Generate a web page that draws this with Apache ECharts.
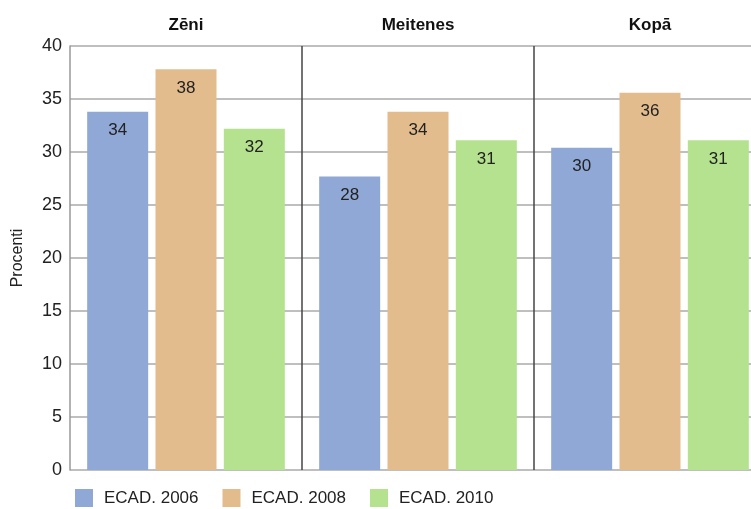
<!DOCTYPE html>
<html>
<head>
<meta charset="utf-8">
<script src="https://cdn.jsdelivr.net/npm/echarts@6/dist/echarts.min.js"></script>
<style>
  html, body { margin: 0; padding: 0; background: #fff; overflow: hidden; }
  /* the plot runs past the right edge of the picture, as in the original */
  #chart { width: 766px; height: 509px; }
</style>
</head>
<body>
<div id="chart"></div>
<script>
  // grupas un sērijas
  const groups = ['Zēni', 'Meitenes', 'Kopā']
  const seriesNames = ['ECAD. 2006', 'ECAD. 2008', 'ECAD. 2010']
  const ecad2006 = [33.8, 27.7, 30.4]
  const ecad2008 = [37.8, 33.8, 35.6]
  const ecad2010 = [32.2, 31.1, 31.1]
  const colors = ['#8FA8D6', '#E3BC8D', '#B5E28E']

  const font = "'Liberation Sans Narrow', 'Arial Narrow', 'Liberation Sans', sans-serif"

  const chart = echarts.init(document.getElementById('chart'))

  const makeSeries = (name, data, color) => ({
    name: name,
    type: 'bar',
    data: data,
    barWidth: 61,
    barGap: '12%',
    itemStyle: { color: color },
    label: {
      show: true,
      position: 'insideTop',
      distance: 10,
      formatter: p => Math.round(p.value),
      fontFamily: font,
      fontSize: 17,
      color: '#222'
    }
  })

  chart.setOption({
    animation: false,
    grid: { left: 70, right: 0, top: 46, bottom: 39 },
    legend: {
      data: seriesNames,
      left: 75,
      top: 489,
      padding: 0,
      icon: 'rect',
      itemWidth: 18,
      itemHeight: 18,
      itemGap: 24,
      textStyle: { fontFamily: font, fontSize: 17, color: '#222', padding: [0, 0, 0, 6] }
    },
    xAxis: {
      type: 'category',
      position: 'top',
      data: groups,
      axisLine: { show: false },
      axisTick: { show: false },
      axisLabel: { fontFamily: font, fontSize: 17, fontWeight: 'bold', color: '#111', margin: 12 },
      splitLine: {
        show: true,
        interval: (index) => index !== 0,
        lineStyle: { color: '#444', width: 1.5 }
      }
    },
    yAxis: {
      type: 'value',
      min: 0,
      max: 40,
      interval: 5,
      name: 'Procenti',
      nameLocation: 'middle',
      nameGap: 44,
      nameTextStyle: { fontFamily: font, fontSize: 16, color: '#222' },
      axisLine: { show: true, lineStyle: { color: '#999', width: 1.5 } },
      axisTick: { show: false },
      axisLabel: { fontFamily: font, fontSize: 18, color: '#222', margin: 8 },
      splitLine: { show: true, lineStyle: { color: '#aaa', width: 1.5 } }
    },
    series: [
      makeSeries(seriesNames[0], ecad2006, colors[0]),
      makeSeries(seriesNames[1], ecad2008, colors[1]),
      makeSeries(seriesNames[2], ecad2010, colors[2])
    ]
  })
</script>
</body>
</html>
